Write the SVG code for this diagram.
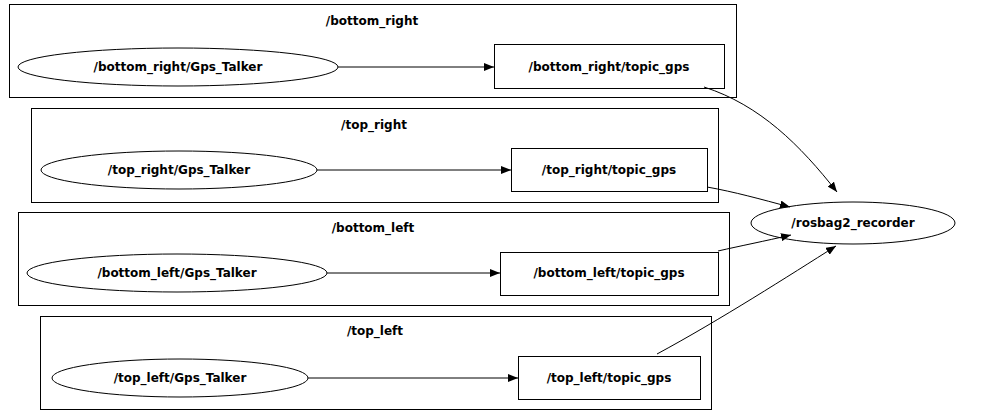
<svg xmlns="http://www.w3.org/2000/svg" width="992" height="412" viewBox="0 0 992 412">
<style>
text{font-family:"DejaVu Sans","Liberation Sans",sans-serif;font-size:12px;font-weight:bold;text-anchor:middle;dominant-baseline:central;fill:#000}
.c{fill:none;stroke:#000;stroke-width:1}
.n{fill:#fff;stroke:#000;stroke-width:1}
.e{fill:none;stroke:#000;stroke-width:1}
</style>
<defs><marker id="a" markerWidth="10" markerHeight="8" refX="10" refY="4" orient="auto" markerUnits="userSpaceOnUse"><path d="M0,0L10,4L0,8z" fill="#000"/></marker></defs>
<rect width="992" height="412" fill="#fff"/>
<g id="cluster_bottom_right"><rect class="c" x="9.5" y="4.5" width="727" height="93"/><text x="372" y="21">/bottom_right</text></g>
<g id="cluster_top_right"><rect class="c" x="31.5" y="108.5" width="687" height="94"/><text x="374" y="125">/top_right</text></g>
<g id="cluster_bottom_left"><rect class="c" x="18.5" y="212.5" width="711" height="93"/><text x="373" y="228">/bottom_left</text></g>
<g id="cluster_top_left"><rect class="c" x="40.5" y="316.5" width="671" height="93"/><text x="375" y="331">/top_left</text></g>
<g id="n_br_talker"><ellipse class="n" cx="178" cy="67" rx="160" ry="19"/><text x="178" y="67">/bottom_right/Gps_Talker</text></g>
<g id="n_br_topic"><rect class="n" x="494.5" y="44.5" width="230" height="44"/><text x="609" y="67">/bottom_right/topic_gps</text></g>
<g id="n_tr_talker"><ellipse class="n" cx="179" cy="170" rx="138" ry="19"/><text x="179" y="170">/top_right/Gps_Talker</text></g>
<g id="n_tr_topic"><rect class="n" x="511.5" y="148.5" width="196" height="43"/><text x="609" y="170">/top_right/topic_gps</text></g>
<g id="n_bl_talker"><ellipse class="n" cx="177" cy="273" rx="150" ry="19"/><text x="177" y="273">/bottom_left/Gps_Talker</text></g>
<g id="n_bl_topic"><rect class="n" x="500.5" y="252.5" width="218" height="43"/><text x="609" y="273">/bottom_left/topic_gps</text></g>
<g id="n_tl_talker"><ellipse class="n" cx="180" cy="378" rx="128" ry="19"/><text x="180" y="378">/top_left/Gps_Talker</text></g>
<g id="n_tl_topic"><rect class="n" x="518.5" y="356.5" width="182" height="43"/><text x="609" y="378">/top_left/topic_gps</text></g>
<g id="n_rosbag"><ellipse class="n" cx="853" cy="223" rx="102" ry="21"/><text x="853" y="223">/rosbag2_recorder</text></g>
<g id="edges">
<path class="e" marker-end="url(#a)" d="M338,67H494"/>
<path class="e" marker-end="url(#a)" d="M317,170H511"/>
<path class="e" marker-end="url(#a)" d="M327,273H500"/>
<path class="e" marker-end="url(#a)" d="M308,378H518"/>
<path class="e" marker-end="url(#a)" d="M704,87C760,105 800,145 837,192"/>
<path class="e" marker-end="url(#a)" d="M707,187C735,192 760,199 790,207"/>
<path class="e" marker-end="url(#a)" d="M718,251C740,246 765,241 791,235"/>
<path class="e" marker-end="url(#a)" d="M657,354C720,320 790,275 836,246"/>
</g>
</svg>
